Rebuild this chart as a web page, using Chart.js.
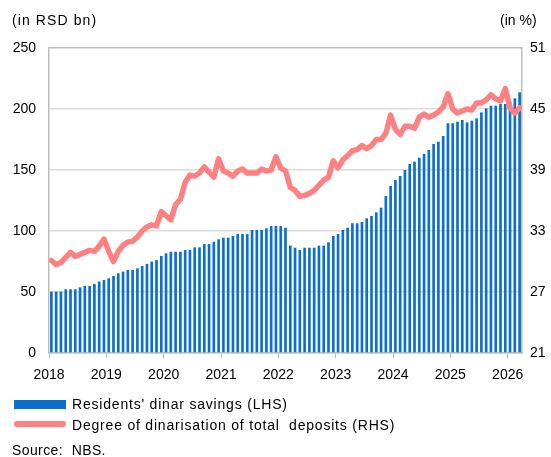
<!DOCTYPE html>
<html>
<head>
<meta charset="utf-8">
<script src="https://cdn.jsdelivr.net/npm/chart.js@4.4.1/dist/chart.umd.min.js"></script>
<style>
  html, body { margin: 0; padding: 0; background: #fff; }
  #wrap { position: relative; width: 551px; height: 457px; overflow: hidden;
          font-family: "Liberation Sans", Arial, sans-serif; font-size: 14px; color: #000; }
  #wrap canvas { position: absolute; left: 0; top: 0; }
  .lbl { position: absolute; white-space: pre; line-height: 16px; letter-spacing: 0.8px; }
  .swatch { position: absolute; }
</style>
</head>
<body>
<div id="wrap">
  <canvas id="chart" width="551" height="457"></canvas>
  <div class="lbl" style="left:12px; top:12px; letter-spacing:1.1px;">(in RSD bn)</div>
  <div class="lbl" style="left:500px; top:12px; letter-spacing:0;">(in %)</div>
  <div class="swatch" style="left:14px; top:400px; width:52px; height:9px; background:#0a70cc;"></div>
  <div class="lbl" style="left:72px; top:396px;">Residents' dinar savings (LHS)</div>
  <div class="swatch" style="left:14px; top:421px; width:52px; height:6px; border-radius:3px; background:#ff8080;"></div>
  <div class="lbl" style="left:72px; top:417px;">Degree of dinarisation of total  deposits (RHS)</div>
  <div class="lbl" style="left:12px; top:442px; letter-spacing:0.4px;">Source:  NBS.</div>
</div>
<script>
// monthly data, Jan 2018 - Mar 2026
const firstYear = 2018;
const yearLabels = ['2018', '2019', '2020', '2021', '2022', '2023', '2024', '2025', '2026'];

// Residents' dinar savings, RSD bn (LHS)
const savings = [
  50.3, 50.3, 50.3, 52.2, 52.2, 52.2, 53.8, 54.9, 54.9, 56.6, 58.5, 59.8,
  61.2, 63.1, 65.3, 66.7, 68.0, 68.0, 69.4, 71.3, 73.0, 74.9, 76.2, 79.5,
  81.7, 83.0, 83.0, 83.0, 84.4, 84.4, 86.6, 86.6, 89.3, 89.3, 91.2, 93.2,
  94.5, 94.5, 95.9, 97.5, 97.5, 97.5, 100.8, 100.8, 100.8, 102.2, 104.1, 104.1,
  104.1, 102.7, 88.0, 86.3, 84.4, 86.3, 86.3, 86.3, 88.0, 88.0, 90.7, 95.9,
  97.5, 100.8, 102.7, 106.3, 106.3, 107.4, 110.4, 112.3, 115.3, 119.1, 128.7, 136.9,
  141.8, 145.1, 150.0, 154.9, 156.8, 160.1, 163.1, 166.4, 171.3, 173.2, 177.9, 188.3,
  188.3, 189.6, 191.0, 189.0, 190.4, 192.3, 197.2, 200.5, 202.7, 202.7, 204.1, 204.1,
  206.0, 208.7, 213.7
];

// Degree of dinarisation of total deposits, % (RHS)
const dinarisation = [
  30.1, 29.7, 29.9, 30.4, 30.9, 30.5, 30.7, 30.9, 31.1, 31.0, 31.5, 32.2,
  31.0, 30.0, 31.0, 31.6, 31.9, 32.0, 32.4, 33.0, 33.4, 33.6, 33.5, 34.9,
  34.5, 34.1, 35.6, 36.1, 37.8, 38.5, 38.4, 38.7, 39.3, 38.8, 38.3, 40.1,
  38.9, 38.7, 38.4, 38.9, 39.1, 38.7, 38.7, 38.7, 39.1, 38.9, 39.0, 40.3,
  39.2, 38.9, 37.3, 37.0, 36.4, 36.5, 36.7, 37.0, 37.5, 38.0, 38.3, 39.9,
  39.2, 40.0, 40.4, 40.9, 41.0, 41.4, 41.1, 41.4, 42.0, 42.0, 42.6, 44.4,
  43.0, 42.5, 43.3, 43.3, 43.1, 44.2, 44.5, 44.2, 44.4, 44.7, 45.2, 46.5,
  45.0, 44.6, 44.8, 45.0, 44.9, 45.6, 45.6, 45.9, 46.4, 46.0, 45.8, 47.0,
  45.1, 44.6, 45.1
];

const leftTicks = [0, 50, 100, 150, 200, 250];
const rightTicks = [21, 27, 33, 39, 45, 51];

const FONT = { family: '"Liberation Sans", Arial, sans-serif', size: 14 };
const GRID = '#dcdcdc';
const FRAME = '#bdbdbd';

const nMonths = savings.length;
const barPts = savings.map((v, i) => ({ x: i + 0.5, y: v }));
const linePts = dinarisation.map((v, i) => ({ x: i + 0.5, y: v }));

new Chart(document.getElementById('chart'), {
  data: {
    datasets: [
      {
        type: 'line',
        label: 'Degree of dinarisation of total deposits (RHS)',
        data: linePts,
        yAxisID: 'y1',
        borderColor: '#ff8080',
        borderWidth: 5.5,
        pointRadius: 0,
        tension: 0,
        borderJoinStyle: 'round',
        borderCapStyle: 'round',
        order: 0
      },
      {
        type: 'bar',
        label: "Residents' dinar savings (LHS)",
        data: barPts,
        yAxisID: 'y',
        backgroundColor: '#0a70cc',
        barPercentage: 0.56,
        categoryPercentage: 1,
        order: 1
      }
    ]
  },
  options: {
    responsive: false,
    animation: false,
    layout: { padding: { top: 48, left: 0, right: 0, bottom: 0 } },
    plugins: { legend: { display: false }, tooltip: { enabled: false } },
    scales: {
      x: {
        type: 'linear',
        offset: false,
        min: 0,
        max: nMonths,
        afterBuildTicks: s => { s.ticks = yearLabels.map((_, k) => ({ value: k * 12 })); },
        afterFit: s => { s.height = 104; },
        ticks: {
          font: FONT, color: '#000', padding: 9, maxRotation: 0, autoSkip: false,
          callback: v => String(firstYear + v / 12)
        },
        grid: { drawOnChartArea: false, color: FRAME, tickLength: 5, lineWidth: 1, offset: false },
        border: { color: FRAME, width: 1.5 }
      },
      y: {
        position: 'left',
        min: 0, max: 250,
        afterBuildTicks: s => { s.ticks = leftTicks.map(v => ({ value: v })); },
        afterFit: s => { s.width = 49; },
        ticks: { font: FONT, color: '#000', padding: 13 },
        grid: {
          drawTicks: false,
          lineWidth: 1.5,
          color: c => (c.tick.value === 250 ? FRAME : GRID)
        },
        border: { color: FRAME, width: 1.5 }
      },
      y1: {
        position: 'right',
        min: 21, max: 51,
        afterBuildTicks: s => { s.ticks = rightTicks.map(v => ({ value: v })); },
        afterFit: s => { s.width = 29; },
        ticks: { font: FONT, color: '#000', padding: 8 },
        grid: { drawOnChartArea: false, drawTicks: false },
        border: { color: FRAME, width: 1.5 }
      }
    }
  }
});
</script>
</body>
</html>
